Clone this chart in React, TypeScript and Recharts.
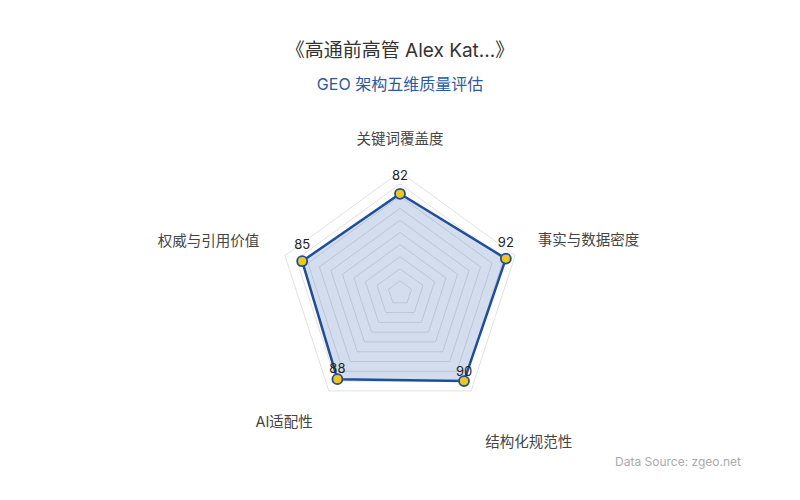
import { PolarAngleAxis, PolarGrid, PolarRadiusAxis, Radar, RadarChart } from "recharts";

const dimensions = ["关键词覆盖度", "事实与数据密度", "结构化规范性", "AI适配性", "权威与引用价值"];
const scores = [82, 92, 90, 88, 85];
const radiusTicks = 11;

const data = dimensions.map((name, i) => ({ name, score: scores[i] }));

const FONT = "Inter, 'Noto Sans CJK SC', 'Noto Sans', sans-serif";
const BLUE = "#1d4f9f";

// where each axis name sits relative to the recharts tick point
const NAME_OFFSETS = [
    { dx: 0, dy: -26, anchor: "middle" },
    { dx: 15, dy: -14, anchor: "start" },
    { dx: 53, dy: 44, anchor: "middle" },
    { dx: -40, dy: 24, anchor: "middle" },
    { dx: -18, dy: -13, anchor: "end" },
];
const VALUE_LIFT = [19, 17, 10, 11, 17];

const AxisName = (props: any) => {
    const { x, y, payload, index } = props;
    const off = NAME_OFFSETS[index] ?? { dx: 0, dy: 0, anchor: "middle" };
    return (
        <text
            x={x + off.dx}
            y={y + off.dy}
            textAnchor={off.anchor}
            dominantBaseline="central"
            fontSize={14.5}
            fontFamily={FONT}
            fill="#444"
        >
            {payload.value}
        </text>
    );
};

const ValueLabel = (props: any) => {
    const { x, y, value, index } = props;
    return (
        <text
            x={x}
            y={y - (VALUE_LIFT[index] ?? 15)}
            textAnchor="middle"
            dominantBaseline="central"
            fontSize={13}
            fontFamily={FONT}
            fill="#222"
        >
            {value}
        </text>
    );
};

const App = () => {
    return (
        <div style={{ position: "absolute", left: 0, top: 0, width: 800, height: 500, background: "#fff", fontFamily: FONT }}>
            <div style={{ position: "absolute", top: 35, width: 800, textAlign: "center", fontSize: 19, color: "#333" }}>
                《高通前高管 Alex Kat...》
            </div>
            <div style={{ position: "absolute", top: 71, width: 800, textAlign: "center", fontSize: 16, color: "#2a5aa6" }}>
                GEO 架构五维质量评估
            </div>
            <RadarChart width={800} height={500} data={data} cx={400} cy={293} outerRadius={121} startAngle={90} endAngle={-270}>
                <PolarGrid gridType="polygon" radialLines={false} stroke="#d9d9d9" strokeWidth={0.8} />
                <PolarRadiusAxis domain={[0, 100]} tickCount={radiusTicks} tick={false} axisLine={false} />
                <PolarAngleAxis dataKey="name" tick={<AxisName />} tickLine={false} axisLine={false} />
                <Radar
                    dataKey="score"
                    stroke={BLUE}
                    strokeWidth={2.5}
                    fill="#3a64b0"
                    fillOpacity={0.22}
                    dot={{ r: 5, fill: "#f2c519", stroke: BLUE, strokeWidth: 1.8, fillOpacity: 1 }}
                    label={<ValueLabel />}
                    isAnimationActive={false}
                />
            </RadarChart>
            <div style={{ position: "absolute", right: 59, top: 454, fontSize: 12, color: "#aaa" }}>
                Data Source: zgeo.net
            </div>
        </div>
    );
};

export default App;
